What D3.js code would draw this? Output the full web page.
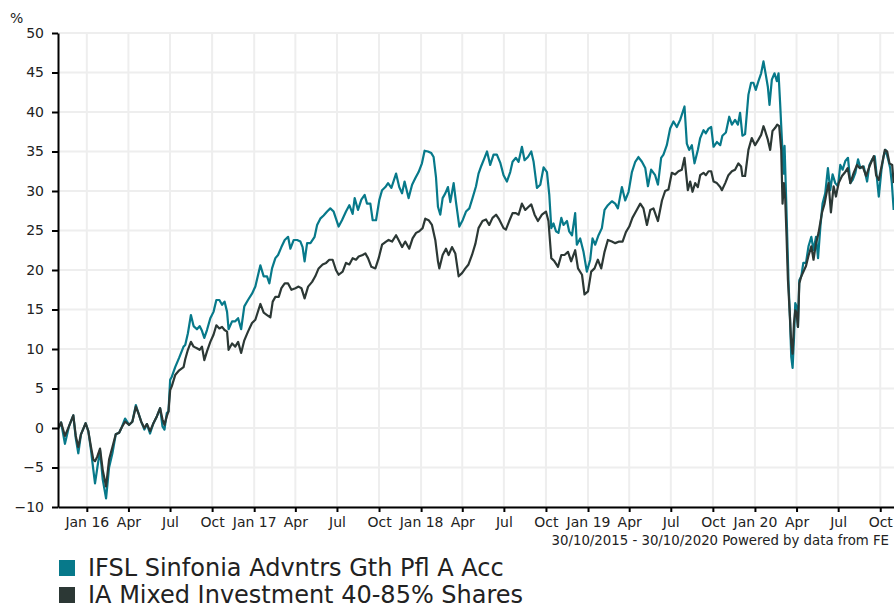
<!DOCTYPE html>
<html>
<head>
<meta charset="utf-8">
<script src="https://cdn.jsdelivr.net/npm/d3@7"></script>
<style>
  html, body { margin: 0; padding: 0; background: #fff; }
  svg { display: block; font-family: "DejaVu Sans", Verdana, sans-serif; }
</style>
</head>
<body>
<div id="chart"></div>
<script>
// Cumulative performance (%), 30/10/2015 - 30/10/2020
// times are decimal years
const fundName = 'IFSL Sinfonia Advntrs Gth Pfl A Acc';
const sectorName = 'IA Mixed Investment 40-85% Shares';

const fundYears = [2015.830,2015.846,2015.869,2015.893,2015.919,2015.934,2015.949,2015.965,2015.993,2016.009,2016.025,2016.039,2016.049,2016.063,2016.079,2016.095,2016.115,2016.133,2016.153,2016.173,2016.193,2016.209,2016.229,2016.253,2016.272,2016.293,2016.308,2016.325,2016.344,2016.359,2016.378,2016.398,2016.419,2016.438,2016.452,2016.464,2016.478,2016.488,2016.498,2016.508,2016.528,2016.552,2016.578,2016.588,2016.604,2016.622,2016.638,2016.658,2016.674,2016.688,2016.702,2016.718,2016.738,2016.757,2016.774,2016.792,2016.808,2016.823,2016.838,2016.847,2016.868,2016.887,2016.904,2016.922,2016.941,2016.963,2016.987,2017.007,2017.037,2017.057,
  2017.077,2017.091,2017.107,2017.127,2017.143,2017.163,2017.183,2017.203,2017.217,2017.237,2017.257,2017.277,2017.290,2017.302,2017.317,2017.337,2017.362,2017.377,2017.396,2017.416,2017.437,2017.456,2017.476,2017.490,2017.506,2017.526,2017.550,2017.570,2017.590,2017.602,2017.622,2017.642,2017.662,2017.676,2017.696,2017.710,2017.730,2017.750,2017.766,2017.786,2017.802,2017.822,2017.850,2017.869,2017.886,2017.901,2017.925,2017.946,2017.965,2017.985,
  2018.005,2018.021,2018.041,2018.061,2018.075,2018.089,2018.101,2018.115,2018.129,2018.145,2018.161,2018.175,2018.195,2018.209,2018.229,2018.249,2018.269,2018.289,2018.308,2018.329,2018.344,2018.361,2018.380,2018.395,2018.414,2018.434,2018.454,2018.474,2018.494,2018.514,2018.534,2018.548,2018.568,2018.584,2018.604,2018.620,2018.640,2018.660,2018.674,2018.694,2018.714,2018.734,2018.754,2018.768,2018.780,2018.793,2018.808,2018.823,2018.840,2018.853,2018.874,2018.887,2018.904,2018.923,2018.933,2018.953,2018.973,2018.993,
  2019.013,2019.027,2019.043,2019.063,2019.083,2019.099,2019.119,2019.143,2019.163,2019.179,2019.203,2019.223,2019.243,2019.263,2019.283,2019.302,2019.323,2019.343,2019.359,2019.378,2019.402,2019.419,2019.438,2019.452,2019.472,2019.492,2019.512,2019.532,2019.552,2019.578,2019.592,2019.606,2019.622,2019.638,2019.658,2019.672,2019.692,2019.706,2019.722,2019.738,2019.752,2019.772,2019.792,2019.805,2019.826,2019.846,2019.862,2019.881,2019.898,2019.911,2019.925,2019.941,2019.961,2019.977,2019.991,
  2020.005,2020.021,2020.037,2020.051,2020.065,2020.077,2020.087,2020.101,2020.117,2020.131,2020.141,2020.151,2020.161,2020.171,2020.177,2020.185,2020.193,2020.201,2020.209,2020.217,2020.225,2020.233,2020.241,2020.249,2020.257,2020.265,2020.277,2020.289,2020.305,2020.320,2020.337,2020.350,2020.365,2020.377,2020.391,2020.404,2020.420,2020.436,2020.450,2020.464,2020.480,2020.496,2020.510,2020.524,2020.540,2020.556,2020.570,2020.584,2020.600,2020.616,2020.630,2020.650,2020.670,2020.684,2020.700,2020.716,2020.731,2020.740,2020.756,2020.769,2020.780,2020.796,2020.808,2020.818,2020.829];
const fundValues = [0,0.7,-2.0,0.2,1.6,-1.3,-3.2,-0.8,0.6,-0.4,-2.8,-5.3,-7.0,-5.0,-2.8,-6.5,-8.9,-5.0,-3.2,-0.8,-0.6,0.1,1.2,0.4,0.8,2.9,1.9,0.8,-0.2,0.5,-0.7,0.6,1.5,2.5,0.2,-0.2,1.9,2.1,6.1,6.5,7.7,8.9,10.3,10.5,12.0,14.3,12.9,12.5,12.9,12.3,11.4,12.4,13.9,14.7,16.2,16.2,15.6,16.0,14.7,12.5,13.5,13.5,13.9,12.5,15.4,16.2,17.0,17.9,20.6,19.2,
  19.2,18.3,20.2,21.5,21.9,22.9,23.8,24.2,22.7,23.8,23.8,23.6,22.9,21.1,23.4,23.4,24.2,25.7,26.5,26.9,27.4,27.8,27.4,26.5,25.5,26.3,27.4,28.2,27.1,29.1,27.6,28.9,29.5,28.4,28.4,26.3,26.3,28.9,30.1,30.5,31.0,30.4,32.2,30.5,29.7,31.2,29.1,30.8,31.6,32.4,
  33.5,35.1,35.0,34.8,34.3,31.8,28.0,27.0,29.1,29.7,30.5,28.6,31.0,28.6,25.5,26.3,27.4,27.8,29.1,30.6,32.2,33.2,34.2,35.0,33.3,34.6,34.6,33.6,32.0,31.2,32.4,33.7,34.2,33.7,35.6,33.9,34.3,35.0,33.7,30.4,30.8,33.0,32.4,29.5,25.3,25.9,24.9,24.7,26.6,25.7,26.2,24.9,24.4,27.2,23.2,24.0,22.3,19.8,
  21.3,24.0,23.2,24.4,25.3,27.6,28.2,28.7,28.4,27.8,30.5,28.8,29.9,32.4,33.7,34.3,33.7,32.9,30.6,32.7,32.0,30.8,34.2,34.6,35.8,37.9,38.8,38.1,39.0,40.7,36.0,35.2,35.8,33.5,35.2,36.7,37.7,37.3,37.9,38.1,35.6,36.2,35.8,37.0,37.4,39.4,38.4,39.0,38.4,39.9,37.0,37.2,42.2,43.7,43.7,
  42.8,43.9,44.9,46.4,44.7,43.2,40.9,44.1,44.9,43.9,44.9,40.9,36.5,32.2,35.7,30.1,24.2,18.3,14.1,9.0,7.6,11.2,15.8,15.4,12.8,18.7,19.2,20.9,20.9,23.0,24.2,22.5,24.2,21.5,25.5,28.4,29.7,32.9,30.1,32.1,31.0,30.6,33.3,32.7,33.8,34.2,31.0,31.4,32.3,34.0,32.9,33.1,31.2,33.3,34.0,34.4,31.2,29.3,32.7,34.4,35.2,34.0,32.9,31.0,27.6];

const sectorYears = [2015.830,2015.846,2015.869,2015.893,2015.919,2015.934,2015.949,2015.965,2015.993,2016.009,2016.025,2016.039,2016.049,2016.063,2016.079,2016.095,2016.115,2016.133,2016.153,2016.173,2016.193,2016.209,2016.229,2016.253,2016.272,2016.293,2016.308,2016.325,2016.344,2016.359,2016.378,2016.398,2016.419,2016.438,2016.452,2016.464,2016.478,2016.488,2016.498,2016.508,2016.528,2016.552,2016.578,2016.588,2016.604,2016.622,2016.638,2016.658,2016.674,2016.688,2016.702,2016.718,2016.738,2016.757,2016.774,2016.792,2016.808,2016.823,2016.838,2016.847,2016.868,2016.887,2016.904,2016.922,2016.941,2016.963,2016.987,2017.007,2017.037,2017.057,
  2017.077,2017.097,2017.111,2017.127,2017.147,2017.163,2017.183,2017.203,2017.223,2017.247,2017.266,2017.283,2017.302,2017.323,2017.347,2017.366,2017.386,2017.410,2017.431,2017.450,2017.470,2017.490,2017.506,2017.530,2017.550,2017.570,2017.590,2017.610,2017.626,2017.650,2017.666,2017.682,2017.702,2017.726,2017.746,2017.766,2017.790,2017.805,2017.826,2017.850,2017.865,2017.886,2017.905,2017.929,2017.949,2017.970,2017.989,
  2018.009,2018.025,2018.045,2018.065,2018.085,2018.101,2018.109,2018.129,2018.149,2018.165,2018.185,2018.205,2018.225,2018.245,2018.265,2018.284,2018.305,2018.325,2018.344,2018.368,2018.389,2018.408,2018.428,2018.449,2018.468,2018.494,2018.508,2018.528,2018.548,2018.568,2018.584,2018.604,2018.624,2018.644,2018.660,2018.680,2018.700,2018.724,2018.748,2018.763,2018.780,2018.799,2018.820,2018.840,2018.859,2018.880,2018.899,2018.923,2018.940,2018.964,2018.979,
  2019.000,2019.019,2019.039,2019.059,2019.079,2019.099,2019.119,2019.143,2019.163,2019.187,2019.207,2019.227,2019.247,2019.266,2019.287,2019.313,2019.332,2019.353,2019.373,2019.392,2019.419,2019.443,2019.462,2019.482,2019.502,2019.522,2019.542,2019.562,2019.578,2019.598,2019.612,2019.626,2019.642,2019.658,2019.672,2019.692,2019.706,2019.722,2019.738,2019.752,2019.772,2019.792,2019.802,2019.822,2019.841,2019.862,2019.881,2019.901,2019.917,2019.925,2019.941,2019.961,2019.981,
  2020.001,2020.021,2020.037,2020.051,2020.061,2020.077,2020.091,2020.105,2020.121,2020.133,2020.145,2020.157,2020.165,2020.173,2020.181,2020.189,2020.197,2020.209,2020.217,2020.225,2020.233,2020.241,2020.249,2020.257,2020.265,2020.277,2020.290,2020.305,2020.320,2020.337,2020.350,2020.365,2020.380,2020.401,2020.416,2020.431,2020.440,2020.454,2020.470,2020.484,2020.500,2020.520,2020.536,2020.554,2020.570,2020.590,2020.610,2020.626,2020.644,2020.664,2020.684,2020.710,2020.724,2020.740,2020.760,2020.776,2020.790,2020.804,2020.820,2020.829];
const sectorValues = [0,0.7,-1.0,0.2,1.6,-1.0,-2.4,-0.8,0.6,-0.4,-2.4,-4.0,-4.2,-3.6,-2.6,-5.3,-7.4,-4.0,-2.4,-0.8,-0.6,0.1,0.8,0.4,0.8,2.7,1.9,0.8,0,0.5,-0.4,0.6,1.5,2.5,1.1,0.4,1.5,2.1,4.8,5.3,6.7,7.3,7.7,8.7,9.9,10.9,10.3,10.1,9.9,10.3,8.6,9.7,10.9,11.8,13.0,12.6,12.8,12.4,12.2,9.9,10.7,10.3,10.9,9.5,11.1,12.2,13.3,13.7,15.7,14.6,
  14.3,14.0,16.0,16.6,16.6,17.7,18.3,18.3,17.5,17.7,17.9,17.7,16.4,17.9,18.5,19.2,20.2,20.7,20.9,21.3,21.3,20.0,19.4,19.8,20.9,20.7,21.5,21.3,21.7,21.9,22.1,21.5,20.4,20.2,21.5,23.2,23.6,23.8,23.6,24.4,23.8,22.9,23.6,22.7,24.0,24.7,24.9,
  25.3,26.5,26.3,25.7,23.8,21.1,20.2,21.9,22.7,21.9,22.9,22.1,19.2,19.6,20.2,20.7,21.9,23.3,25.3,26.2,26.4,25.7,26.6,27.0,26.4,25.3,25.1,26.2,27.2,27.2,27.0,28.4,27.6,28.0,28.3,27.0,26.2,27.0,27.4,26.2,21.5,21.1,20.4,21.9,21.9,22.3,21.1,22.5,20.2,19.4,16.9,
  17.3,19.8,20.2,21.3,20.2,22.3,23.8,23.6,23.4,23.6,23.6,24.8,25.5,26.6,27.4,28.4,27.8,25.7,27.6,27.8,26.2,28.8,30.0,30.2,32.3,32.1,32.5,32.7,34.2,30.1,31.2,29.9,31.0,30.5,32.0,32.3,32.0,32.5,32.5,31.2,31.0,30.5,30.1,31.0,32.0,32.5,32.7,33.5,33.1,31.9,31.9,35.2,36.7,
  35.8,36.5,37.1,38.2,37.6,36.5,35.2,37.6,38.0,38.4,38.2,35.2,28.4,31.0,29.0,24.2,18.8,14.1,10.7,9.4,13.2,14.9,14.5,12.8,18.3,19.2,19.8,20.5,21.8,23.0,21.3,23.4,24.7,27.3,28.4,30.1,31.0,27.3,30.6,29.3,31.0,31.9,32.3,32.9,31.0,32.3,33.3,32.9,33.1,31.9,33.1,34.4,32.0,31.4,33.5,35.2,35.0,33.5,33.3,31.0];

const yTicks = [-10, -5, 0, 5, 10, 15, 20, 25, 30, 35, 40, 45, 50];
const startDate = '2015-10-30', endDate = '2020-10-30';
const footerText = '30/10/2015 - 30/10/2020 Powered by data from FE';

const colors = { fund: '#07798a', sector: '#2c3835', grid: '#eeeeee' };

function yearToDate(t) {
  const yr = Math.floor(t);
  const a = Date.UTC(yr, 0, 1), b = Date.UTC(yr + 1, 0, 1);
  return new Date(a + (t - yr) * (b - a));
}

const width = 894, height = 604;
const margin = { left: 58, right: 0.5, top: 33, bottom: 97 };
const svg = d3.select('#chart').append('svg').attr('width', width).attr('height', height);

const x = d3.scaleUtc().domain([new Date(startDate), new Date(endDate)]).range([margin.left, width - margin.right]);
const y = d3.scaleLinear().domain([-10, 50]).range([height - margin.bottom, margin.top]);

const quarterTicks = d3.utcMonth.every(3).range(new Date('2016-01-01'), new Date(endDate));
const fmtTick = d => d.getUTCMonth() === 0 ? d3.utcFormat('%b %y')(d) : d3.utcFormat('%b')(d);

// grid
const grid = svg.append('g');
grid.selectAll('line.h').data(yTicks).join('line').attr('class', 'h')
  .attr('x1', margin.left).attr('x2', width).attr('y1', d => y(d)).attr('y2', d => y(d))
  .attr('stroke', colors.grid).attr('stroke-width', 2);
grid.selectAll('line.v').data(quarterTicks).join('line').attr('class', 'v')
  .attr('x1', d => x(d)).attr('x2', d => x(d)).attr('y1', y(50)).attr('y2', y(-10))
  .attr('stroke', colors.grid).attr('stroke-width', 2);

// lines
svg.append('clipPath').attr('id', 'plot-clip').append('rect')
  .attr('x', margin.left).attr('y', 0).attr('width', width - margin.left).attr('height', y(-10));
const line = d3.line().x(d => x(d[0])).y(d => y(d[1]));
const fundData = fundYears.map((t, i) => [yearToDate(t), fundValues[i]]);
const sectorData = sectorYears.map((t, i) => [yearToDate(t), sectorValues[i]]);
const plot = svg.append('g').attr('clip-path', 'url(#plot-clip)');
plot.append('path').datum(fundData).attr('d', line).attr('fill', 'none')
  .attr('stroke', colors.fund).attr('stroke-width', 2.2).attr('stroke-linejoin', 'round');
plot.append('path').datum(sectorData).attr('d', line).attr('fill', 'none')
  .attr('stroke', colors.sector).attr('stroke-width', 2.2).attr('stroke-linejoin', 'round');

// axes
const yAxis = svg.append('g').attr('transform', `translate(${margin.left},0)`)
  .call(d3.axisLeft(y).tickValues(yTicks).tickSize(6).tickPadding(8).tickSizeOuter(0));
const xAxis = svg.append('g').attr('transform', `translate(0,${y(-10)})`)
  .call(d3.axisBottom(x).tickValues(quarterTicks).tickFormat(fmtTick).tickSize(5).tickPadding(5).tickSizeOuter(0));
[yAxis, xAxis].forEach(a => {
  a.select('.domain').attr('stroke', '#000').attr('stroke-width', 2);
  a.selectAll('.tick line').attr('stroke', '#000').attr('stroke-width', 2);
  a.selectAll('.tick text').attr('fill', '#222').style('font-size', '14px').style('font-family', '"DejaVu Sans", Verdana, sans-serif');
});

svg.append('text').attr('x', 10).attr('y', 23).attr('fill', '#222').style('font-size', '14px').text('%');
svg.append('text').attr('x', 889).attr('y', 545).attr('text-anchor', 'end').attr('fill', '#222')
  .style('font-size', '13.3px').text(footerText);

// legend
const legend = svg.append('g');
const items = [{ name: fundName, color: colors.fund }, { name: sectorName, color: colors.sector }];
items.forEach((it, i) => {
  const gy = 560 + i * 27;
  legend.append('rect').attr('x', 59).attr('y', gy).attr('width', 16).attr('height', 16).attr('fill', it.color);
  legend.append('text').attr('x', 88).attr('y', gy + 16).attr('fill', '#222').style('font-size', '24px').text(it.name);
});
</script>
</body>
</html>
